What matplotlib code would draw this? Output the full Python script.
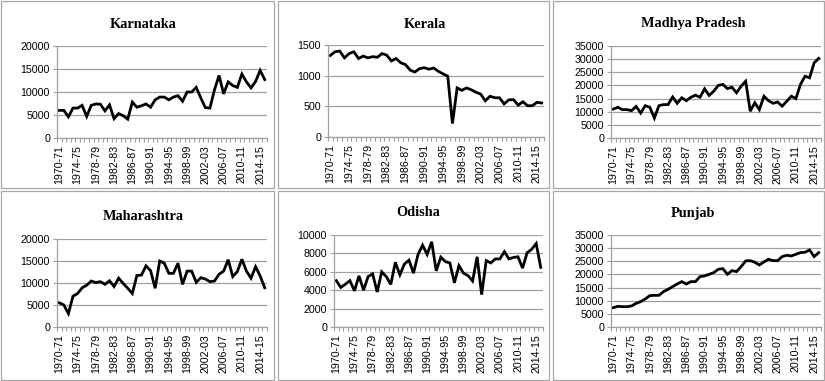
import numpy as np
import matplotlib.pyplot as plt
from matplotlib.patches import Rectangle
from matplotlib.ticker import FixedLocator

# =========================
# 1. Data
# =========================
years = [f"{y}-{(y + 1) % 100:02d}" for y in range(1970, 2016)]

karnataka = [6000, 6000, 4600, 6500, 6500, 7100, 4700, 7100, 7400, 7350,
             5900, 7200, 4200, 5300, 4850, 4100, 7800, 6700, 7000, 7400,
             6700, 8300, 8900, 8900, 8300, 8900, 9200, 8000, 10000, 10000,
             11000, 8700, 6600, 6500, 10500, 13600, 9600, 12200, 11400, 11000,
             13900, 12200, 10900, 12300, 14700, 12700]

kerala = [1330, 1390, 1400, 1290, 1360, 1390, 1280, 1320, 1290, 1310,
          1300, 1360, 1335, 1240, 1280, 1210, 1180, 1090, 1060, 1115,
          1130, 1105, 1125, 1070, 1030, 990, 220, 800, 760, 800,
          770, 730, 700, 590, 665, 640, 640, 540, 605, 610,
          520, 575, 510, 510, 565, 555]

madhya_pradesh = [11000, 11700, 10800, 10800, 10400, 12000, 9500, 12300, 11700, 7600,
                  12300, 12700, 12700, 15600, 13200, 15300, 14200, 15500, 16300, 15500,
                  18700, 16200, 17800, 20000, 20400, 18800, 19300, 17200, 19700, 21600,
                  10200, 13400, 10800, 15900, 14200, 13200, 13700, 12100, 14000, 15900,
                  15000, 20400, 23500, 22900, 28600, 30300]

maharashtra = [5500, 5000, 3050, 7000, 7600, 8900, 9500, 10450, 10100, 10300,
               9700, 10500, 9200, 11100, 9900, 8800, 7600, 11700, 11800, 13900,
               12800, 8800, 15000, 14500, 12200, 12200, 14500, 9700, 12700, 12700,
               10150, 11200, 10900, 10300, 10450, 12000, 12700, 15300, 11450, 12600,
               15400, 12700, 11100, 13700, 11600, 8900]

odisha = [5040, 4300, 4650, 5040, 3930, 5560, 4000, 5480, 5780, 3800,
          6000, 5480, 4630, 7040, 5670, 6850, 7260, 5850, 7890, 8890,
          7890, 9260, 6100, 7590, 7110, 6960, 4800, 6670, 5850, 5590,
          5000, 7630, 3520, 7220, 6960, 7400, 7400, 8190, 7400, 7560,
          7630, 6400, 8070, 8440, 9070, 6480]

punjab = [7360, 7870, 7740, 7740, 8000, 9000, 9650, 10660, 11930, 12050,
          12050, 13450, 14340, 15350, 16370, 17260, 16370, 17260, 17260, 19160,
          19420, 20050, 20690, 21950, 22210, 20050, 21450, 21070, 22970, 25130,
          25250, 24620, 23600, 24750, 25760, 25250, 25250, 26780, 27280, 27030,
          27660, 28300, 28430, 29300, 26780, 28300]

# =========================
# 2. Layout (pixel boxes)
# =========================
W, H = 825, 381
fig = plt.figure(figsize=(W / 100, H / 100), dpi=100)

# name, data, ymax, ystep, panel box (l, t, r, b), plot box (l, t, r, b), title (x, y)
panels = [
    ("Karnataka", karnataka, 20000, 5000, (1, 1, 274, 188), (57, 46, 267, 138), (143, 24)),
    ("Kerala", kerala, 1500, 500, (278, 1, 549, 188), (328, 45, 544, 137), (425, 24)),
    ("Madhya Pradesh", madhya_pradesh, 35000, 5000, (553, 1, 824, 188), (611, 46, 821, 138), (693, 24)),
    ("Maharashtra", maharashtra, 20000, 5000, (1, 191, 274, 380), (57, 239, 267, 327), (143, 217)),
    ("Odisha", odisha, 10000, 2000, (278, 191, 549, 380), (334, 235, 543, 327), (418, 213)),
    ("Punjab", punjab, 35000, 5000, (553, 191, 824, 380), (611, 235, 821, 327), (693, 213)),
]

grid_col = "#a0a0a0"

for name, vals, ymax, ystep, pbox, abox, tpos in panels:
    # panel border
    l, t, r, b = pbox
    fig.patches.append(Rectangle((l / W, 1 - b / H), (r - l) / W, (b - t) / H,
                                 transform=fig.transFigure, fill=False,
                                 edgecolor="#a8a8a8", linewidth=0.9))

    l, t, r, b = abox
    ax = fig.add_axes([l / W, 1 - b / H, (r - l) / W, (b - t) / H])
    n = len(vals)
    x = np.arange(n) + 0.5
    ax.plot(x, vals, color="black", linewidth=2.0, solid_joinstyle="miter")
    ax.set_xlim(0, n)
    ax.set_ylim(0, ymax)

    ax.set_yticks(np.arange(0, ymax + 1, ystep))
    ax.yaxis.grid(True, color=grid_col, linewidth=0.9)
    ax.set_axisbelow(True)

    ax.set_xticks(x[::4])
    ax.set_xticklabels(years[::4], rotation=90)
    ax.xaxis.set_minor_locator(FixedLocator(np.arange(0, n + 1)))
    ax.tick_params(axis="x", which="major", length=0, pad=5)
    ax.tick_params(axis="x", which="minor", length=3, color=grid_col, width=0.8)
    ax.tick_params(axis="y", length=3, color=grid_col, width=0.8, pad=2)
    for lab in ax.get_xticklabels() + ax.get_yticklabels():
        lab.set_fontfamily("Liberation Sans")
        lab.set_fontsize(7.7)

    for s in ["top", "right"]:
        ax.spines[s].set_visible(False)
    for s in ["left", "bottom"]:
        ax.spines[s].set_color(grid_col)
        ax.spines[s].set_linewidth(0.9)

    fig.text(tpos[0] / W, 1 - tpos[1] / H, name, ha="center", va="center",
             fontfamily="Liberation Serif", fontweight="bold", fontsize=10.3)

fig.savefig("out.png", dpi=100, facecolor="white")
